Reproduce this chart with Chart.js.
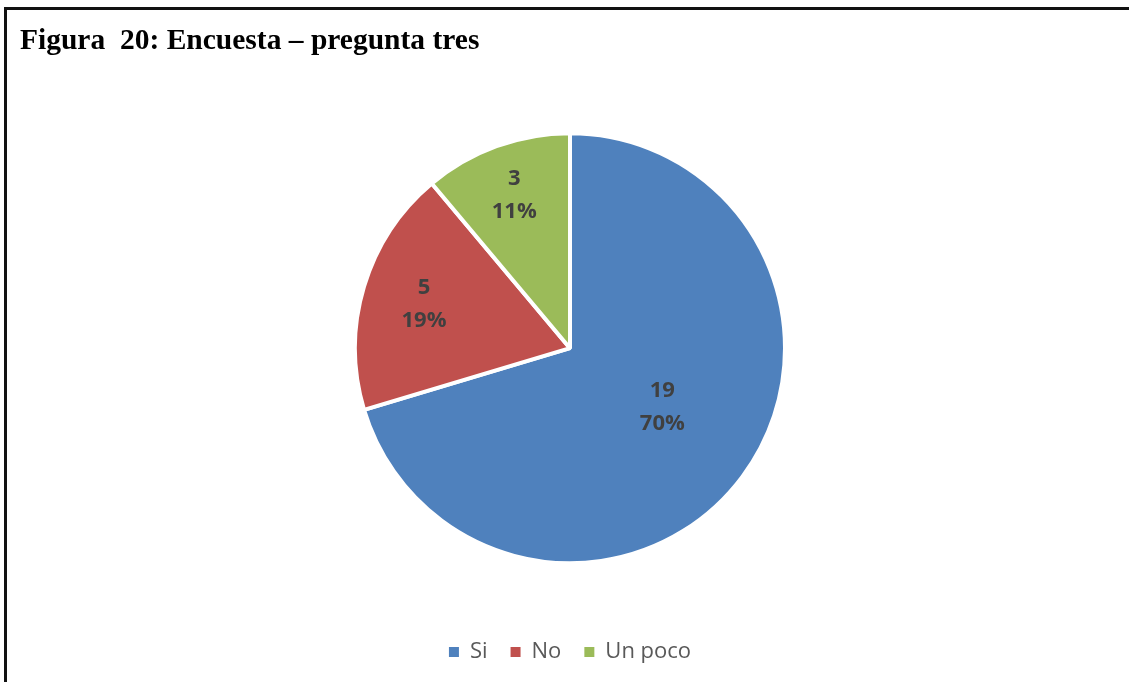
<!DOCTYPE html>
<html lang="es">
<head>
    <meta charset="UTF-8">
    <title>Figura 20: Encuesta – pregunta tres</title>
    <style>
        body { margin: 0; background: #fff; }
        #frame {
            position: absolute; left: 4px; top: 7px; width: 1200px; height: 700px;
            border-top: 3px solid #111; border-left: 3px solid #111;
        }
        #chart { position: absolute; left: 0; top: 0; }
    </style>
</head>
<body>

<div id="frame"></div>
<canvas id="chart" width="1129" height="682"></canvas>

<script src="https://cdn.jsdelivr.net/npm/chart.js"></script>
<script>
    // Survey answers
    const categories = ['Si', 'No', 'Un poco'];
    const answers = [19, 5, 3];
    const sliceColors = ['#4F81BD', '#C0504D', '#9BBB59'];

    // Value + percent labels drawn inside each slice
    const sliceLabels = {
        id: 'sliceLabels',
        afterDatasetsDraw(chart, args, opts) {
            const ctx = chart.ctx;
            const meta = chart.getDatasetMeta(0);
            const data = chart.data.datasets[0].data;
            const total = data.reduce((a, b) => a + b, 0);
            ctx.save();
            ctx.font = opts.font;
            ctx.fillStyle = opts.color;
            ctx.textAlign = 'center';
            ctx.textBaseline = 'middle';
            meta.data.forEach((arc, i) => {
                const p = arc.getProps(['x', 'y', 'startAngle', 'endAngle', 'outerRadius'], true);
                const mid = (p.startAngle + p.endAngle) / 2 + opts.nudge[i] * Math.PI / 180;
                const r = p.outerRadius * opts.offsets[i];
                const cx = p.x + Math.cos(mid) * r;
                const cy = p.y + Math.sin(mid) * r;
                ctx.fillText(String(data[i]), cx, cy - opts.lineGap / 2);
                ctx.fillText(Math.round(data[i] / total * 100) + '%', cx, cy + opts.lineGap / 2);
            });
            ctx.restore();
        }
    };

    new Chart(document.getElementById('chart'), {
        type: 'pie',
        data: {
            labels: categories,
            datasets: [{
                data: answers,
                backgroundColor: sliceColors,
                borderColor: '#ffffff',
                borderWidth: 4
            }]
        },
        options: {
            responsive: false,
            animation: false,
            radius: 215,
            layout: { padding: { left: 20, right: 9, top: 0, bottom: 9 } },
            plugins: {
                title: {
                    display: true,
                    text: 'Figura  20: Encuesta – pregunta tres',
                    align: 'start',
                    color: '#000',
                    font: { family: '"Liberation Serif", "Times New Roman", serif', size: 29.5, weight: 'bold', lineHeight: 1.2 },
                    padding: { top: 24, bottom: 19 }
                },
                legend: {
                    position: 'bottom',
                    labels: {
                        boxWidth: 10,
                        boxHeight: 10,
                        padding: 23,
                        color: '#595959',
                        font: { family: '"Open Sans", sans-serif', size: 22 },
                        // plain squares, without the white slice outline
                        generateLabels(chart) {
                            return Chart.overrides.pie.plugins.legend.labels.generateLabels(chart)
                                .map(item => Object.assign(item, { lineWidth: 0 }));
                        }
                    }
                },
                tooltip: { enabled: false },
                sliceLabels: {
                    font: 'bold 22px "Open Sans", sans-serif',
                    color: '#404040',
                    lineGap: 33,
                    offsets: [0.51, 0.709, 0.758],
                    nudge: [-4, 0, 0]
                }
            }
        },
        plugins: [sliceLabels]
    });
</script>

</body>
</html>
